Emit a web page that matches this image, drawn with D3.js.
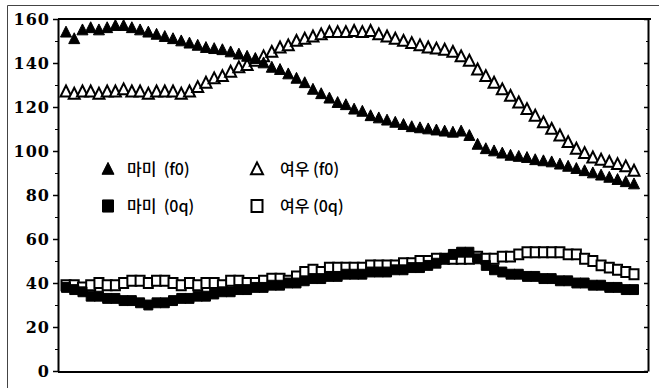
<!DOCTYPE html>
<html>
<head>
<meta charset="utf-8">
<script src="https://cdn.jsdelivr.net/npm/d3@7"></script>
<style>
  body { margin: 0; background: #fff; }
  svg { display: block; }
  .legend text { font-family: "Noto Sans CJK KR", sans-serif; font-size: 16px; font-weight: 500; white-space: pre; }
  .axis text { font-family: "DejaVu Serif", serif; font-weight: bold; font-size: 16px; letter-spacing: 1px; }
</style>
</head>
<body>
<div id="chart"></div>
<script>
// values, one per time step (70 steps)
const mamiF0 = [154,151,155,156,155,156,157,157,156,155,154,153,152,151,150,149,148,147,146.5,146,
  145,144,143,142,140,138,137,135,133,131,128,126,124,122,121,119,118,116,115,114,
  113,112,111,110.5,110,109.5,109,108.5,109,107,103,101,100,99,98,97.5,97,96,95.5,95,
  94,93,92,91,90,89,88,87,86,85];
const yeouF0 = [127,126,127,127,126,127,127,128,127,127,126,127,127,127,126,127,129,131,133,134,
  136,138,139,141,143,145,147,148,150,151,152,153,154,154,154,154.5,154,154.5,153,152,
  151,150,149,148,147,146.5,146,145,143,141,137,134,131,128,125,122,119,116,113,110,
  107,104,101,99,97,96,95,94,93,91];
const mami0q = [38,37,36,34,34,33,33,32,32,31,30,31,31,32,33,33,34,34,35,36,
  36,37,37,38,38,39,39,40,40,41,42,42,43,43,44,44,44,45,45,45,
  46,46,47,47,48,49,51,53,54,54,51,48,46,45,44,44,43,43,42,42,
  41,41,40,40,39,39,38,38,37,37];
const yeou0q = [39,39,38,39,40,39,39,40,41,41,40,41,41,40,39,40,39,40,40,39,
  41,41,40,40,41,42,42,41,43,45,46,45,47,47,47,47,47,48,48,48,
  48,49,49,50,50,51,51,51,51,51,52,51,51,52,52,53,54,54,54,54,
  54,53,53,51,50,48,47,46,45,44];
const yTicks = [0,20,40,60,80,100,120,140,160];
const legendLabels = ["마미  (f0)", "여우 (f0)", "마미  (0q)", "여우 (0q)"];

const width = 659, height = 388;
const frame = {left: 58, right: 648, top: 19, bottom: 372};

const svg = d3.select("#chart").append("svg")
  .attr("width", width)
  .attr("height", height);

// outer border of the figure
svg.append("path")
  .attr("d", "M7.5," + height + "V5.5H" + width)
  .attr("fill", "none")
  .attr("stroke", "#444")
  .attr("stroke-width", 1);

let x = d3.scaleLinear().domain([0, mamiF0.length - 1]).range([66, 634]);
let y = d3.scaleLinear().domain([0, 160]).range([371, 19]);

// frame lines
svg.append("line")
  .attr("x1", frame.left).attr("x2", frame.right + 3)
  .attr("y1", frame.top).attr("y2", frame.top)
  .attr("stroke", "#000").attr("stroke-width", 2);
svg.append("line")
  .attr("x1", frame.left).attr("x2", frame.right)
  .attr("y1", frame.bottom).attr("y2", frame.bottom)
  .attr("stroke", "#000").attr("stroke-width", 2);

// left axis
let yAxis = d3.axisLeft(y).tickValues(yTicks).tickSize(5).tickPadding(3).tickSizeOuter(0);
let gLeft = svg.append("g").attr("class", "axis")
  .attr("transform", "translate(" + frame.left + ",0)")
  .call(yAxis);
gLeft.select(".domain").attr("stroke-width", 2);
gLeft.selectAll(".tick line").attr("stroke-width", 1.5);

let minorTicks = d3.range(10, 160, 20);
svg.append("g")
  .attr("transform", "translate(" + frame.left + ",0)")
  .call(d3.axisLeft(y).tickValues(minorTicks).tickSize(3).tickFormat("").tickSizeOuter(0))
  .select(".domain").remove();

// right axis, ticks pointing inward
let gRight = svg.append("g")
  .attr("transform", "translate(" + frame.right + ",0)")
  .call(d3.axisLeft(y).tickValues(yTicks).tickSize(4).tickFormat("").tickSizeOuter(0));
gRight.select(".domain").attr("stroke-width", 2);
gRight.selectAll(".tick line").attr("stroke-width", 1.5);
svg.append("g")
  .attr("transform", "translate(" + frame.right + ",0)")
  .call(d3.axisLeft(y).tickValues(minorTicks).tickSize(2).tickFormat("").tickSizeOuter(0))
  .select(".domain").remove();

// marker shapes: size is the box width
const triType = {
  draw(ctx, size) {
    let w = size / 2, h = size * 0.55;
    ctx.moveTo(0, -h);
    ctx.lineTo(w, h * 0.8);
    ctx.lineTo(-w, h * 0.8);
    ctx.closePath();
  }
};
const sqType = {
  draw(ctx, size) {
    let w = size / 2, h = size * 0.55;
    ctx.rect(-w, -h, 2 * w, 2 * h);
  }
};
const tri = d3.symbol().type(triType).size(11);
const sq = d3.symbol().type(sqType).size(9);

function drawSeries(values, symbol, filled) {
  svg.append("g").selectAll("path")
    .data(values)
    .join("path")
    .attr("transform", (d, i) => "translate(" + x(i) + "," + y(d) + ")")
    .attr("d", symbol)
    .attr("fill", filled ? "#000" : "#fff")
    .attr("stroke", "#000")
    .attr("stroke-width", filled ? 1 : 2);
}

drawSeries(yeou0q, sq, false);
drawSeries(mami0q, sq, true);
drawSeries(yeouF0, tri, false);
drawSeries(mamiF0, tri, true);

// legend
const legendPos = [[108, 169], [257, 169], [108, 206], [257, 206]];
const legendSym = [triType, triType, sqType, sqType];
const legendFill = [true, false, true, false];
let legend = svg.append("g").attr("class", "legend");
legendLabels.forEach((label, i) => {
  let p = legendPos[i];
  legend.append("path")
    .attr("transform", "translate(" + p[0] + "," + p[1] + ")")
    .attr("d", d3.symbol().type(legendSym[i]).size(legendSym[i] === triType ? 12 : 11)())
    .attr("fill", legendFill[i] ? "#000" : "#fff")
    .attr("stroke", "#000")
    .attr("stroke-width", legendFill[i] ? 1 : 2);
  legend.append("text")
    .attr("x", p[0] + (i % 2 === 0 ? 19 : 23))
    .attr("y", p[1] + 6)
    .text(label);
});
</script>
</body>
</html>
